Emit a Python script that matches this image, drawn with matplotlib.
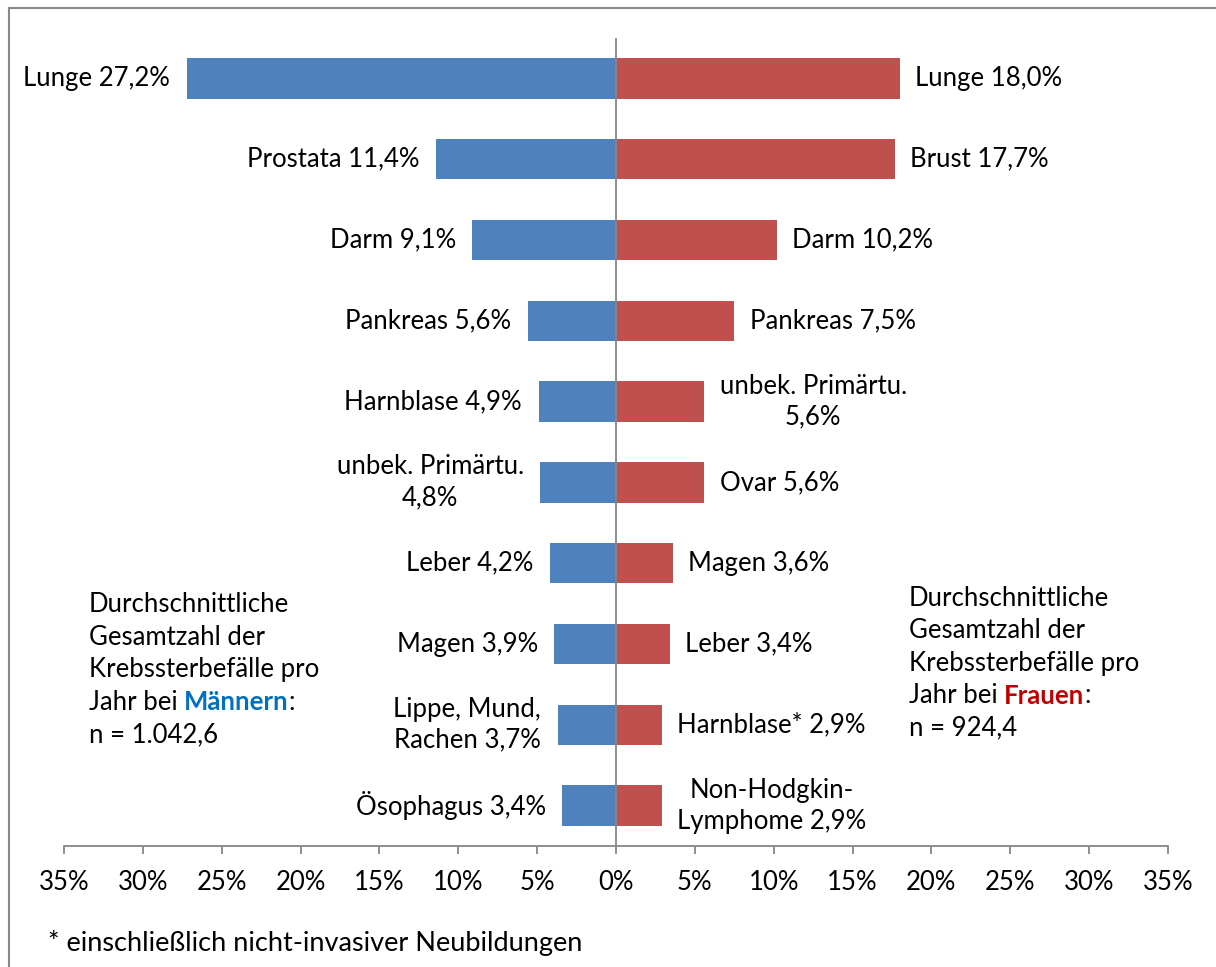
import matplotlib.pyplot as plt
from matplotlib.lines import Line2D

plt.rcParams['font.family'] = ['Lato', 'DejaVu Sans']

# Anteil an allen Krebssterbefällen (%)
maenner_namen = ["Lunge", "Prostata", "Darm", "Pankreas", "Harnblase",
                 "unbek. Primärtu.\n", "Leber", "Magen", "Lippe, Mund,\nRachen", "Ösophagus"]
maenner_werte = [27.2, 11.4, 9.1, 5.6, 4.9, 4.8, 4.2, 3.9, 3.7, 3.4]
frauen_namen = ["Lunge", "Brust", "Darm", "Pankreas", "unbek. Primärtu.\n",
                "Ovar", "Magen", "Leber", "Harnblase*", "Non-Hodgkin-\nLymphome"]
frauen_werte = [18.0, 17.7, 10.2, 7.5, 5.6, 5.6, 3.6, 3.4, 2.9, 2.9]
ticks = [-35, -30, -25, -20, -15, -10, -5, 0, 5, 10, 15, 20, 25, 30, 35]

blau = "#4F81BD"
rot = "#C0504D"
grau = "#868686"
fs = 18.5

W, H = 1216, 967
fig = plt.figure(figsize=(W / 100, H / 100), dpi=100)
ax = fig.add_axes([64 / W, 1 - 846 / H, (1168 - 64) / W, (846 - 38) / H])


def etikett(name, wert):
    zahl = f"{wert:.1f}".replace(".", ",") + "%"
    if name.endswith("\n"):
        return name + zahl
    return name + " " + zahl


pos = list(range(len(maenner_werte)))
ax.barh(pos, [-v for v in maenner_werte], height=0.5, color=blau)
ax.barh(pos, frauen_werte, height=0.5, color=rot)

for i, (n, v) in enumerate(zip(maenner_namen, maenner_werte)):
    ax.annotate(etikett(n, v), (-v, i), xytext=(-12, 0), textcoords="offset points",
                ha="right", va="center", multialignment="center", fontsize=fs,
                linespacing=1.3)
for i, (n, v) in enumerate(zip(frauen_namen, frauen_werte)):
    ax.annotate(etikett(n, v), (v, i), xytext=(11, 0), textcoords="offset points",
                ha="left", va="center", multialignment="center", fontsize=fs,
                linespacing=1.3)

ax.axvline(0, color=grau, lw=1.3)
ax.set_xlim(-35, 35)
ax.set_ylim(len(pos) - 0.5, -0.5)
ax.set_xticks(ticks)
ax.set_xticklabels([f"{abs(t)}%" for t in ticks], fontsize=fs)
ax.set_yticks([])
for s in ["top", "left", "right"]:
    ax.spines[s].set_visible(False)
ax.spines["bottom"].set_color(grau)
ax.spines["bottom"].set_linewidth(1.3)
ax.tick_params(axis="x", direction="out", length=6, width=1.3, color=grau, pad=11)

# Rahmen oben und links
fig.add_artist(Line2D([9 / W, 9 / W], [0, 1 - 8 / H], color="#898989", lw=1.5))
fig.add_artist(Line2D([9 / W, 1], [1 - 8 / H, 1 - 8 / H], color="#898989", lw=1.5))

renderer = fig.canvas.get_renderer()


def infobox(x, y0, wort, farbe, n):
    zeilen = ["Durchschnittliche", "Gesamtzahl der", "Krebssterbefälle pro"]
    for k, z in enumerate(zeilen):
        fig.text(x / W, 1 - (y0 + k * 32.5) / H, z, fontsize=fs, va="center")
    y = 1 - (y0 + 3 * 32.5) / H
    t = fig.text(x / W, y, "Jahr bei ", fontsize=fs, va="center")
    bb = t.get_window_extent(renderer)
    t2 = fig.text(bb.x1 / W, y, wort, fontsize=fs, va="center", color=farbe,
                  fontweight="bold")
    bb2 = t2.get_window_extent(renderer)
    fig.text(bb2.x1 / W, y, ":", fontsize=fs, va="center")
    fig.text(x / W, 1 - (y0 + 4 * 32.5) / H, "n = " + n, fontsize=fs, va="center")


infobox(89, 605, "Männern", "#0070C0", "1.042,6")
infobox(909, 598, "Frauen", "#C00000", "924,4")

fig.text(48 / W, 1 - 943 / H, "* einschließlich nicht-invasiver Neubildungen",
         fontsize=19.5, va="center")

fig.savefig("out.png", dpi=100, facecolor="white")
